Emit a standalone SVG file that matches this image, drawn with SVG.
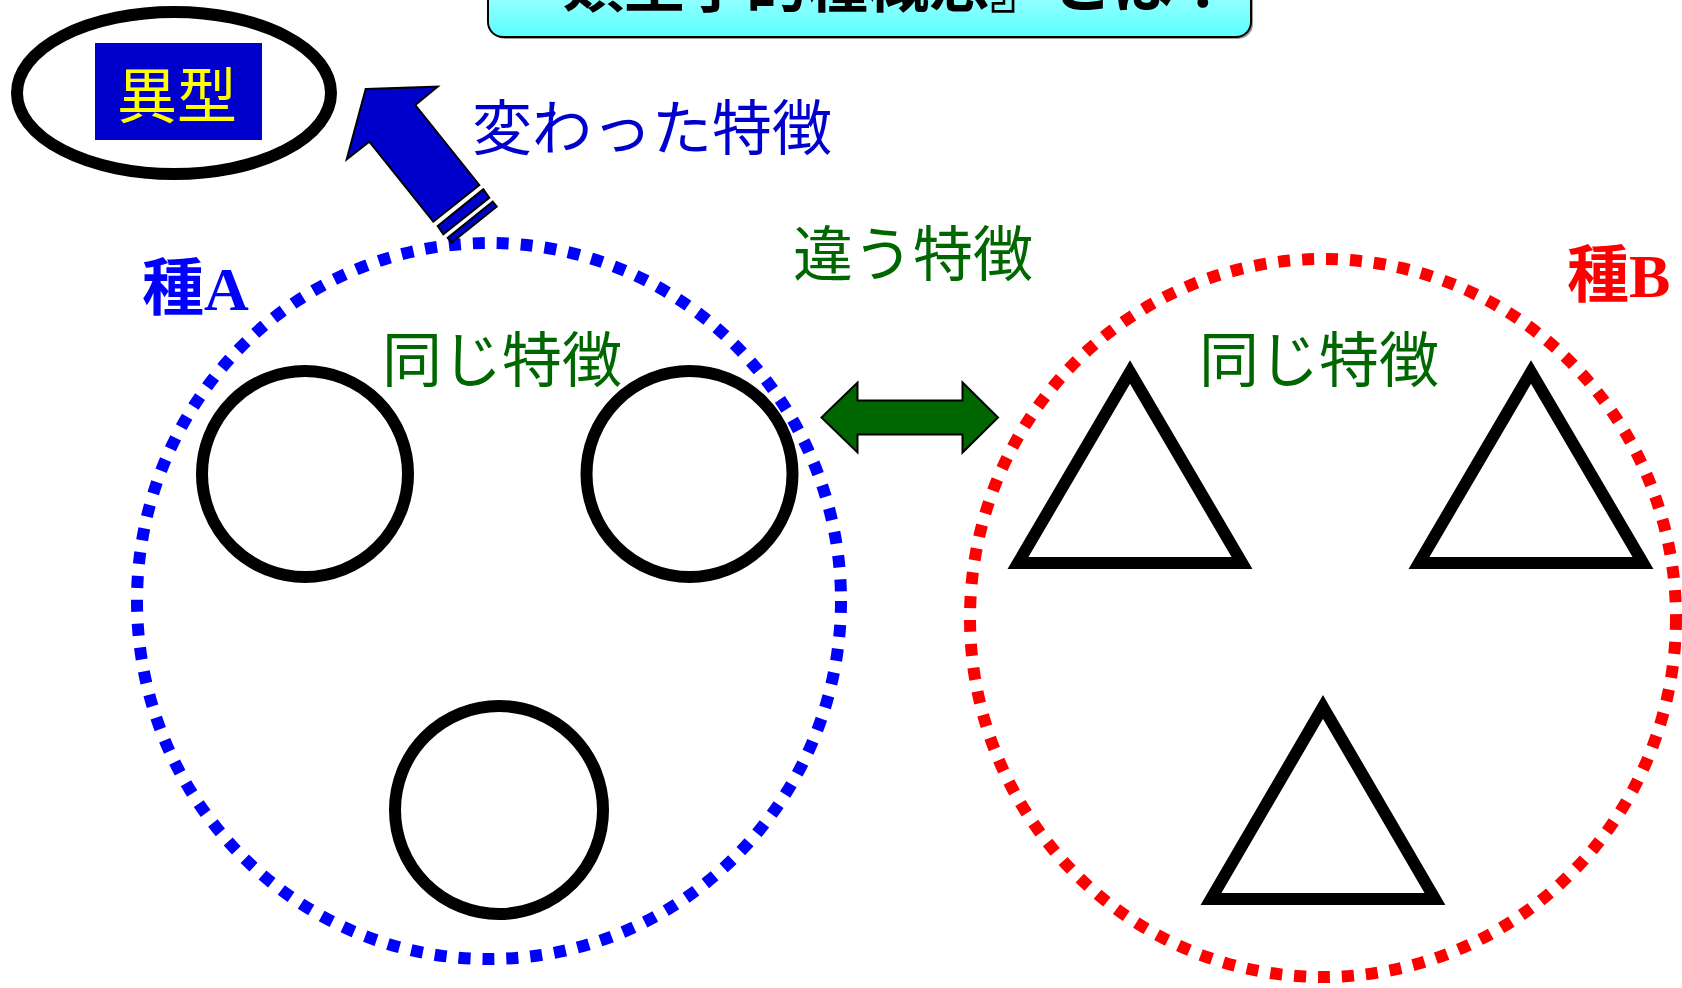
<svg xmlns="http://www.w3.org/2000/svg" width="1682" height="988" viewBox="0 0 1682 988">
<style>
.jp{font-family:"Noto Sans CJK JP","Noto Sans CJK SC",sans-serif;font-size:60px}
.title{font-family:"Noto Sans CJK JP","Noto Sans CJK SC",sans-serif;font-size:61px;font-weight:bold;fill:#000}
.lbl{font-family:"Liberation Serif","Noto Sans CJK JP",serif;font-weight:bold;font-size:62px}
.shape{fill:none;stroke:#000;stroke-width:12;stroke-linejoin:miter;stroke-miterlimit:10}
.dotA{fill:none;stroke:#0000FF;stroke-width:12;stroke-dasharray:12 12}
.dotB{fill:none;stroke:#FF0000;stroke-width:12;stroke-dasharray:12 12}
.arr{stroke:#000;stroke-width:2;stroke-linejoin:miter}
</style>
<defs>
<linearGradient id="tg" x1="0" y1="0" x2="0" y2="1">
<stop offset="0" stop-color="#B8FFFF"/>
<stop offset="1" stop-color="#5CFFFF"/>
</linearGradient>
</defs>
<rect width="1682" height="988" fill="#FFFFFF"/>

<g id="title">
<rect x="490" y="-30" width="763" height="69" rx="15" fill="#555" opacity="0.6"/>
<rect x="488" y="-30" width="763" height="67" rx="15" fill="url(#tg)" stroke="#000" stroke-width="2"/>
<text class="title" x="502" y="7">『類型学的種概念』とは？</text>
</g>

<g id="variant">
<ellipse cx="174" cy="93" rx="157" ry="81" class="shape"/>
<rect x="95" y="43" width="167" height="97" fill="#0000CC"/>
<text class="jp" x="177" y="118" text-anchor="middle" fill="#FFFF00">異型</text>
</g>

<g id="speciesA">
<ellipse cx="489" cy="601" rx="352" ry="358" class="dotA"/>
<text class="lbl" x="142" y="310" fill="#0000FF">種A</text>
<text class="jp" x="502" y="382" text-anchor="middle" fill="#006600">同じ特徴</text>
</g>
<g id="circle1"><circle cx="305" cy="474" r="103" class="shape"/></g>
<g id="circle2"><circle cx="689.5" cy="474" r="103" class="shape"/></g>
<g id="circle3"><circle cx="499" cy="810" r="104" class="shape"/></g>

<g id="speciesB">
<ellipse cx="1323" cy="618" rx="353" ry="359" class="dotB"/>
<text class="lbl" x="1567" y="297" fill="#FF0000">種B</text>
<text class="jp" x="1319" y="382" text-anchor="middle" fill="#006600">同じ特徴</text>
</g>
<g id="triangle1"><polygon points="1130,372 1242,563 1018,563" class="shape"/></g>
<g id="triangle2"><polygon points="1531,372 1643,563 1419,563" class="shape"/></g>
<g id="triangle3"><polygon points="1323,707 1435,899 1211,899" class="shape"/></g>

<g id="labels">
<text class="jp" x="472" y="150" fill="#0000CC">変わった特徴</text>
<text class="jp" x="913" y="276" text-anchor="middle" fill="#006600">違う特徴</text>
</g>

<g id="connectors">
<polygon class="arr" fill="#0000CC" points="365.7,89 437.7,86.7 415.3,105 479.3,185 433.3,221.7 369.3,141.7 346.7,159.3"/>
<polygon class="arr" fill="#0000CC" stroke-width="1.5" points="437.7,226 483.3,189.3 489.3,197.7 443.3,234.3"/>
<polygon class="arr" fill="#0000CC" stroke-width="1.5" points="447.7,237.8 492.7,201.7 496.7,206.7 451.7,242.5"/>
<polygon class="arr" fill="#006600" points="821.5,417.5 857.5,382.5 857.5,400.5 962.5,400.5 962.5,382.5 998,417.5 962.5,452.5 962.5,434.5 857.5,434.5 857.5,452.5"/>
</g>
</svg>
